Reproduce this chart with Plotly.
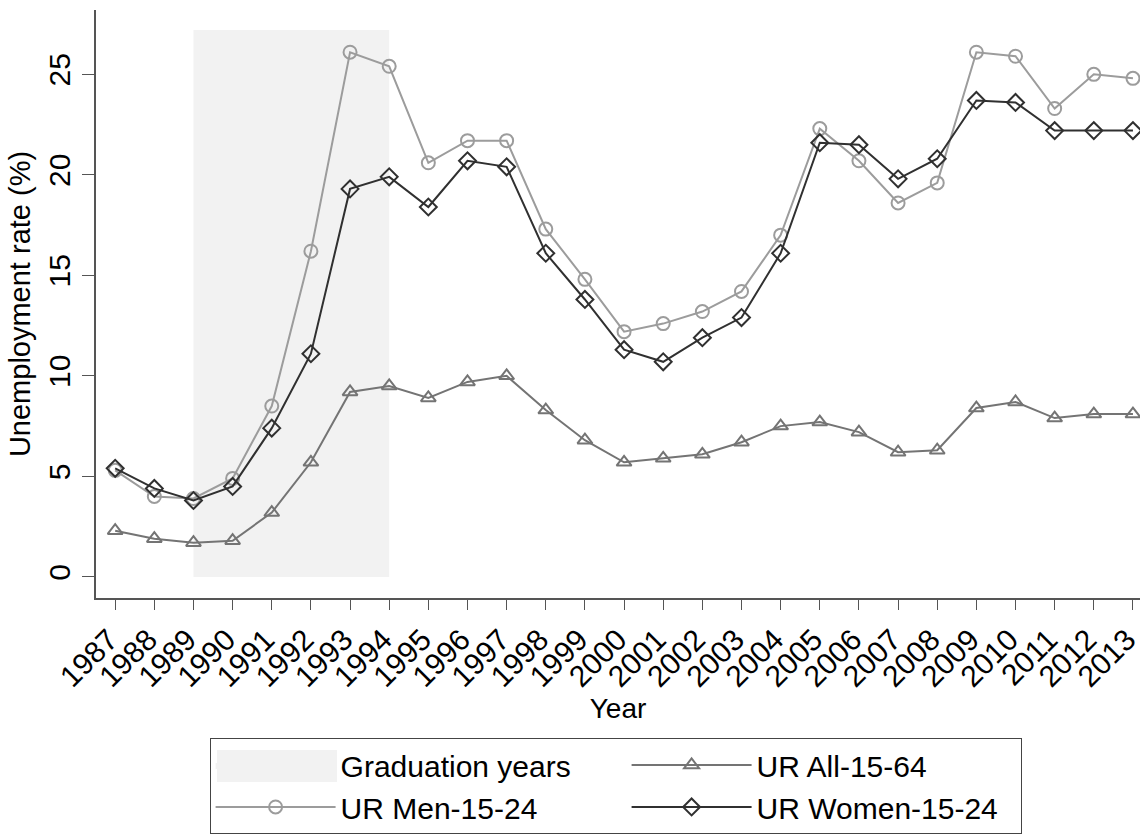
import plotly.graph_objects as go

# Unemployment rates by year
years = list(range(1987, 2014))
ur_all_15_64 = [2.3, 1.9, 1.7, 1.8, 3.2, 5.7, 9.2, 9.5, 8.9, 9.7, 10.0, 8.3, 6.8,
                5.7, 5.9, 6.1, 6.7, 7.5, 7.7, 7.2, 6.2, 6.3, 8.4, 8.7, 7.9, 8.1, 8.1]
ur_men_15_24 = [5.3, 4.0, 3.9, 4.9, 8.5, 16.2, 26.1, 25.4, 20.6, 21.7, 21.7, 17.3, 14.8,
                12.2, 12.6, 13.2, 14.2, 17.0, 22.3, 20.7, 18.6, 19.6, 26.1, 25.9, 23.3, 25.0, 24.8]
ur_women_15_24 = [5.4, 4.4, 3.8, 4.5, 7.4, 11.1, 19.3, 19.9, 18.4, 20.7, 20.4, 16.1, 13.8,
                  11.3, 10.7, 11.9, 12.9, 16.1, 21.6, 21.5, 19.8, 20.8, 23.7, 23.6, 22.2, 22.2, 22.2]

# Graduation window
grad_start, grad_end = 1989, 1994
grad_top = 27.2

y_ticks = [0, 5, 10, 15, 20, 25]

FONT = "Liberation Sans, Arial, sans-serif"
SHADE = "#f2f2f2"
COL1_W = 281   # legend text slot, first column
COL2_W = 259   # legend text slot, second column

fig = go.Figure()

# shaded graduation period
fig.add_trace(go.Scatter(
    x=[grad_start, grad_end, grad_end, grad_start, grad_start],
    y=[0, 0, grad_top, grad_top, 0],
    fill="toself", fillcolor=SHADE, mode="lines",
    line=dict(width=0, color=SHADE),
    name="Graduation years", hoverinfo="skip", legendwidth=COL1_W,
))

fig.add_trace(go.Scatter(
    x=years, y=ur_all_15_64, name="UR All-15-64", mode="lines+markers",
    line=dict(color="#747474", width=2),
    marker=dict(symbol="triangle-up-open", size=13, color="#747474",
                line=dict(width=2, color="#747474")),
    legendwidth=COL2_W,
))

fig.add_trace(go.Scatter(
    x=years, y=ur_men_15_24, name="UR Men-15-24", mode="lines+markers",
    line=dict(color="#9c9c9c", width=2),
    marker=dict(symbol="circle-open", size=13, color="#9c9c9c",
                line=dict(width=2, color="#9c9c9c")),
    legendwidth=COL1_W,
))

fig.add_trace(go.Scatter(
    x=years, y=ur_women_15_24, name="UR Women-15-24", mode="lines+markers",
    line=dict(color="#303030", width=2),
    marker=dict(symbol="diamond-open", size=13, color="#303030",
                line=dict(width=2, color="#303030")),
    legendwidth=COL2_W,
))

# taller key swatch for the shaded period inside the legend box
fig.add_shape(
    type="rect", xref="paper", yref="paper",
    x0=0.1159, x1=0.2308, y0=-0.3129, y1=-0.2585,
    fillcolor=SHADE, line=dict(width=0), layer="above",
)

fig.update_layout(
    width=1145, height=839,
    margin=dict(l=96, r=5, t=10, b=241),
    paper_bgcolor="white", plot_bgcolor="white",
    font=dict(family=FONT, color="black", size=30),
    showlegend=True,
    legend=dict(
        orientation="h", x=0.1088, xanchor="left", y=-0.238, yanchor="top",
        bordercolor="#444444", borderwidth=1, bgcolor="rgba(0,0,0,0)",
        font=dict(size=30, family=FONT),
        itemwidth=120, itemsizing="trace", traceorder="normal",
    ),
)

fig.update_xaxes(
    range=[1986.51, 2013.18], tickmode="array", tickvals=years,
    ticktext=[str(y) for y in years], tickangle=-45,
    ticklabeloverflow="allow", ticklabelshift=-6, automargin=False,
    ticks="outside", ticklen=10, tickcolor="#555555", tickwidth=1,
    showline=True, linecolor="#555555", linewidth=2, mirror=False,
    showgrid=False, zeroline=False,
    tickfont=dict(size=30),
    title=dict(text="Year", font=dict(size=28), standoff=6),
)

fig.update_yaxes(
    range=[-1.05, 28.2], tickmode="array", tickvals=y_ticks,
    tickangle=-90, automargin=False,
    ticks="outside", ticklen=12, tickcolor="#555555", tickwidth=1,
    showline=True, linecolor="#555555", linewidth=2, mirror=False,
    showgrid=False, zeroline=False,
    tickfont=dict(size=30),
    title=dict(text="Unemployment rate (%)", font=dict(size=29), standoff=4),
)

fig.write_html("out.html")
